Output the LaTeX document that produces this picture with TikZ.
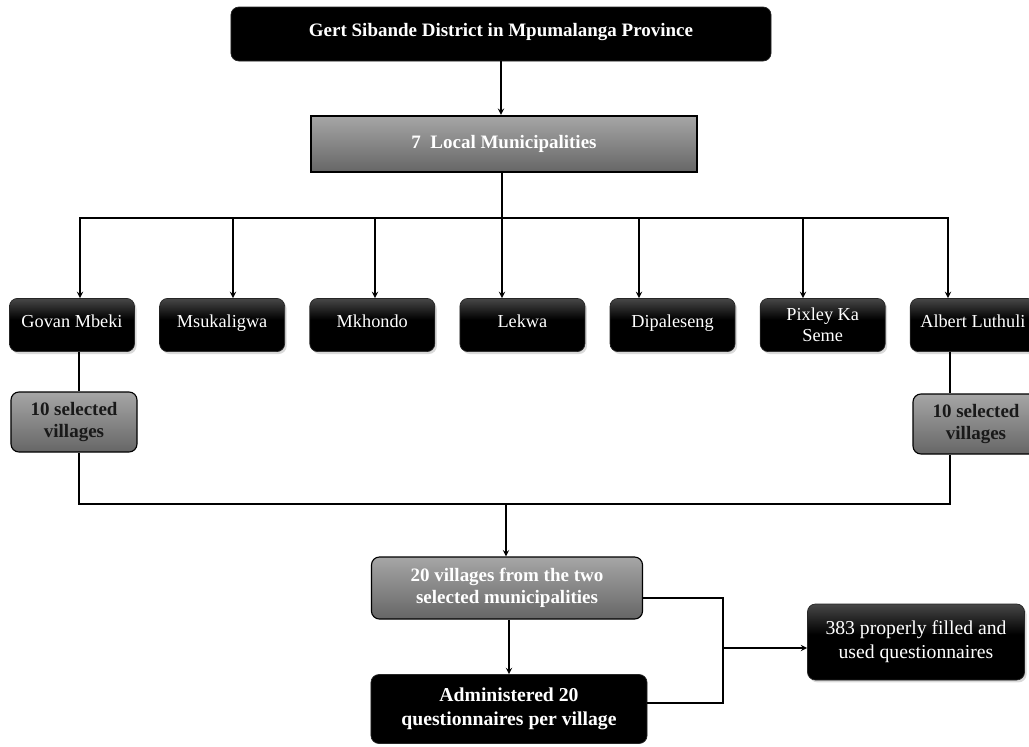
\documentclass[tikz,border=0pt]{standalone}
\usepackage{fontspec}
\setmainfont{Liberation Serif}
\usetikzlibrary{arrows, positioning, shadows}

\pgfdeclareverticalshading{blackfill}{100bp}{color(0bp)=(black); color(25bp)=(black); color(55bp)=(black); color(75bp)=(black!72); color(100bp)=(black!72)}
\pgfdeclareverticalshading{grayfill}{100bp}{color(0bp)=(black!60); color(25bp)=(black!60); color(75bp)=(black!35); color(100bp)=(black!35)}

\begin{document}
\begin{tikzpicture}[x=0.025cm, y=-0.025cm, >=stealth, line width=1pt]
	\tikzstyle{box} = [draw=black!85, line width=0.5pt, rounded corners=0.2cm, align=center, inner sep=2pt, font=\fontsize{13}{15}\selectfont]
	\tikzstyle{blk} = [box, shading=blackfill, text=white, drop shadow={opacity=0.3, shadow xshift=0.05cm, shadow yshift=-0.06cm}]
	\tikzstyle{gry} = [box, draw=black, line width=0.8pt, shading=grayfill, text=white, font=\fontsize{13.5}{16}\selectfont\bfseries]
	\tikzstyle{mun} = [blk, minimum width=3.125cm, minimum height=1.33cm, text depth=0.5em]
	\tikzstyle{vil} = [gry, text=black!90, minimum width=3.15cm, minimum height=1.5cm]

	\useasboundingbox (0,0) rectangle (1029,746);

	% top of the hierarchy
	\node[box, fill=black, text=white, font=\fontsize{13.5}{16}\selectfont\bfseries, text depth=0.6em, minimum width=13.5cm, minimum height=1.35cm] (district) at (501,34) {Gert Sibande District in Mpumalanga Province};
	\node[gry, rounded corners=0pt, line width=1.6pt, minimum width=9.65cm, minimum height=1.4cm] (munis) at (504,144) {7\ \ Local Municipalities};
	\draw[->] (district.south -| 501,0) -- (501,0 |- munis.north);

	% the seven municipalities
	\node[mun] (govan) at (72,325) {Govan Mbeki};
	\node[mun, right=0.61cm of govan] (msuk) {Msukaligwa};
	\node[mun, right=0.61cm of msuk] (mkhondo) {Mkhondo};
	\node[mun, right=0.61cm of mkhondo] (lekwa) {Lekwa};
	\node[mun, right=0.61cm of lekwa] (dipa) {Dipaleseng};
	\node[mun, right=0.61cm of dipa, text depth=0pt] (pixley) {Pixley Ka\\Seme};
	\node[mun, right=0.61cm of pixley] (albert) {Albert Luthuli};

	\coordinate (bus) at (502,218);
	\draw (munis.south -| bus) -- (bus);
	\foreach \n/\x in {govan/80, msuk/233, mkhondo/375, lekwa/502, dipa/639, pixley/803, albert/948}
		\draw[->] (bus) -| (\x,0 |- \n.north);

	% selected villages
	\node[vil] (vill1) at (74,422) {10 selected\\villages};
	\node[vil] (vill2) at (976,424) {10 selected\\villages};
	\draw (79,0 |- govan.south) -- (79,0 |- vill1.north);
	\draw (950,0 |- albert.south) -- (950,0 |- vill2.north);

	\coordinate (join) at (506,504);
	\draw (79,0 |- vill1.south) |- (join);
	\draw (950,0 |- vill2.south) |- (join);

	% sampling
	\node[gry, minimum width=6.775cm, minimum height=1.55cm] (twenty) at (507,588) {20 villages from the two\\selected municipalities};
	\draw[->] (join) -- (join |- twenty.north);

	\node[box, fill=black, text=white, font=\fontsize{14}{17}\selectfont\bfseries, minimum width=6.9cm, minimum height=1.725cm] (admin) at (509,709) {Administered 20\\questionnaires per village};
	\draw[->] (509,0 |- twenty.south) -- (509,0 |- admin.north);

	\node[blk, font=\fontsize{14}{17}\selectfont, minimum width=5.425cm, minimum height=1.9cm] (final) at (916,642) {383 properly filled and\\used questionnaires};

	\coordinate (merge) at (723,648);
	\draw (twenty.east |- 0,598) -| (merge) |- (admin.east |- 0,703);
	\draw[->] (merge) -- (merge -| final.west);
\end{tikzpicture}
\end{document}
